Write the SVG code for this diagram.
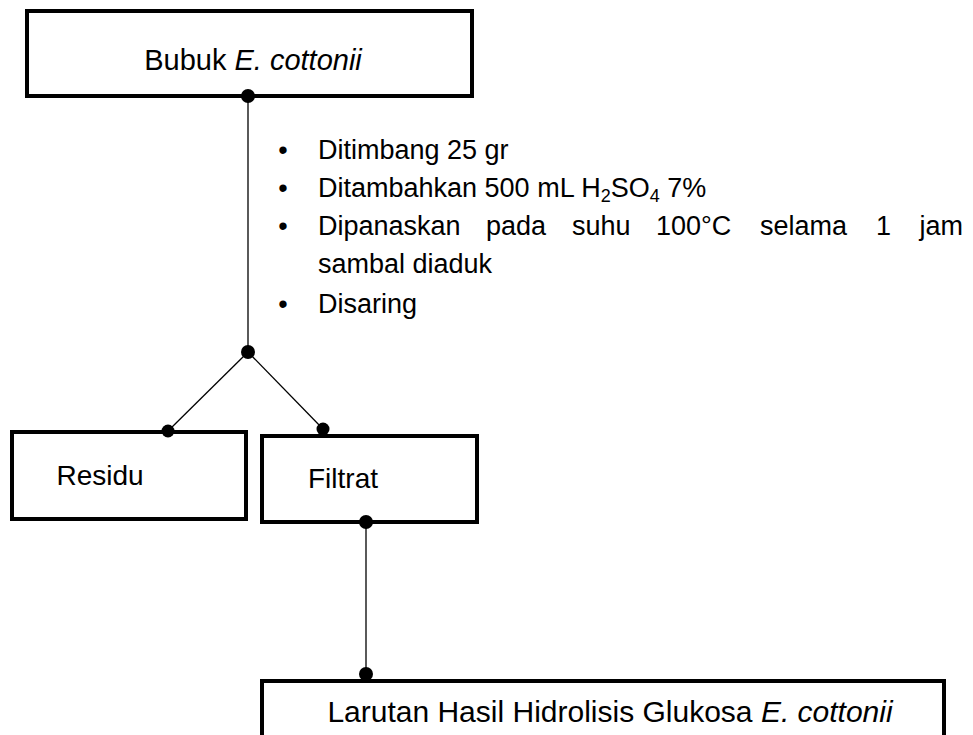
<svg xmlns="http://www.w3.org/2000/svg" width="973" height="735" viewBox="0 0 973 735">
<style>
.box{fill:#fff;stroke:#000;stroke-width:4}
.t{font-family:"Liberation Sans",Arial,sans-serif;font-size:27px;fill:#000}
.c{text-anchor:middle}
.i{font-style:italic}
.ln{stroke:#000;stroke-width:1.3;fill:none}
.dot{fill:#000}
</style>
<rect width="973" height="735" fill="#fff"/>
<g id="connectors">
<line class="ln" x1="248" y1="96" x2="248" y2="352"/>
<line class="ln" x1="248" y1="352" x2="168" y2="431"/>
<line class="ln" x1="248" y1="352" x2="323" y2="429"/>
<line class="ln" x1="366" y1="522" x2="366" y2="674"/>
</g>
<g id="node-bubuk">
<rect class="box" x="27" y="11" width="445" height="85"/>
<text class="t c" x="253" y="70" style="font-size:29px">Bubuk <tspan class="i">E. cottonii</tspan></text>
</g>
<g id="steps">
<g class="t">
<text x="283" y="159" class="c">•</text>
<text x="318" y="159">Ditimbang 25 gr</text>
<text x="283" y="197" class="c">•</text>
<text x="318" y="197">Ditambahkan 500 mL H<tspan style="font-size:18px" dy="5">2</tspan><tspan dy="-5">SO</tspan><tspan style="font-size:18px" dy="5">4</tspan><tspan dy="-5"> 7%</tspan></text>
<text x="283" y="235" class="c">•</text>
<text x="318" y="235">Dipanaskan</text>
<text x="486" y="235">pada</text>
<text x="572" y="235">suhu</text>
<text x="656" y="235">100°C</text>
<text x="760" y="235">selama</text>
<text x="876" y="235">1</text>
<text x="963" y="235" text-anchor="end">jam</text>
<text x="318" y="273">sambal diaduk</text>
<text x="283" y="313" class="c">•</text>
<text x="318" y="313">Disaring</text>
</g>
</g>
<g id="node-residu">
<rect class="box" x="12" y="432" width="234" height="87"/>
<text class="t c" x="100" y="485" style="font-size:28px">Residu</text>
</g>
<g id="node-filtrat">
<rect class="box" x="262" y="436" width="215" height="86"/>
<text class="t c" x="343" y="488" style="font-size:28px">Filtrat</text>
</g>
<g id="node-larutan">
<rect class="box" x="262" y="681" width="682" height="80"/>
<text class="t c" x="610" y="722" style="font-size:30px">Larutan Hasil Hidrolisis Glukosa <tspan class="i">E. cottonii</tspan></text>
</g>
<g id="dots">
<circle class="dot" cx="248" cy="96" r="7"/>
<circle class="dot" cx="248" cy="352" r="7"/>
<circle class="dot" cx="168" cy="431" r="6.5"/>
<circle class="dot" cx="323" cy="429" r="6.5"/>
<circle class="dot" cx="366" cy="522" r="7"/>
<circle class="dot" cx="366" cy="674" r="7"/>
</g>
</svg>
